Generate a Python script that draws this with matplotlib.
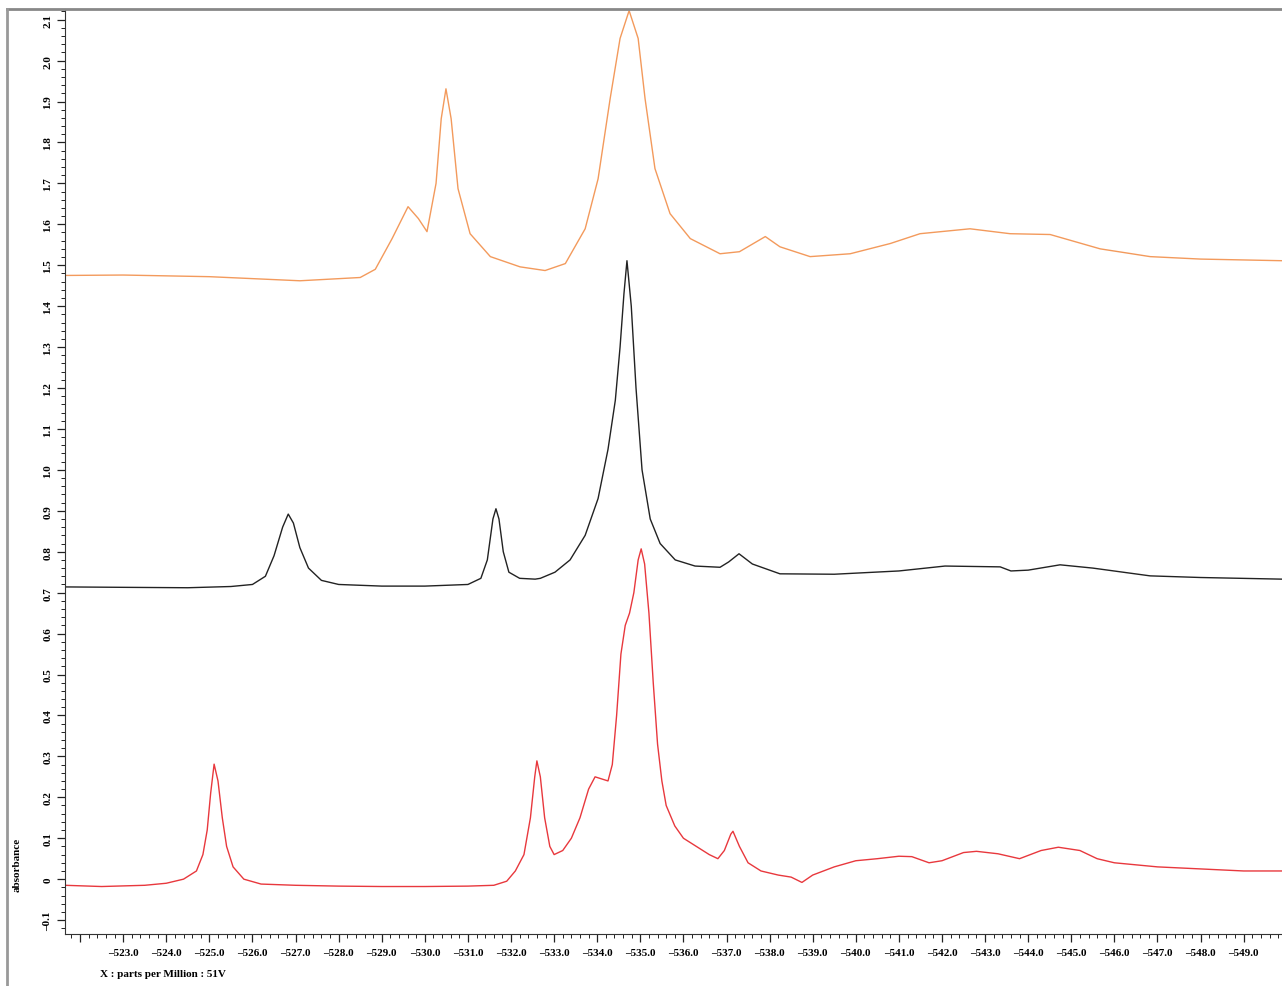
import numpy as np
import matplotlib
matplotlib.use('Agg')
import matplotlib.pyplot as plt
from matplotlib.ticker import MultipleLocator, FuncFormatter
from matplotlib.lines import Line2D

# values (ppm, absorbance)
red_ppm = [-521.65, -522.5, -523.5, -524.0, -524.4, -524.7, -524.85, -524.95, -525.03, -525.11,
           -525.2, -525.3, -525.4, -525.55, -525.8, -526.2, -527.0, -528.0, -529.0, -530.0,
           -531.0, -531.6, -531.9, -532.1, -532.3, -532.45, -532.55, -532.6, -532.68, -532.78,
           -532.9, -533.0, -533.2, -533.4, -533.6, -533.8, -533.95, -534.1, -534.25, -534.35,
           -534.45, -534.55, -534.65, -534.75, -534.85, -534.95, -535.02, -535.1, -535.2, -535.3,
           -535.4, -535.5, -535.6, -535.8, -536.0, -536.3, -536.6, -536.8, -536.95, -537.1,
           -537.15, -537.3, -537.5, -537.8, -538.2, -538.5, -538.75, -539.0, -539.5, -540.0,
           -540.5, -541.0, -541.3, -541.7, -542.0, -542.5, -542.8, -543.3, -543.8, -544.3,
           -544.7, -545.2, -545.6, -546.0, -547.0, -548.0, -549.0, -549.89]
red_val = [-0.015, -0.018, -0.015, -0.01, 0.0, 0.02, 0.06, 0.12, 0.21, 0.281,
           0.24, 0.15, 0.08, 0.03, 0.0, -0.012, -0.015, -0.017, -0.018, -0.018,
           -0.017, -0.015, -0.005, 0.02, 0.06, 0.15, 0.25, 0.289, 0.25, 0.15,
           0.08, 0.06, 0.07, 0.1, 0.15, 0.22, 0.25, 0.245, 0.24, 0.28,
           0.4, 0.55, 0.62, 0.65, 0.7, 0.78, 0.807, 0.77, 0.65, 0.48,
           0.33, 0.24, 0.18, 0.13, 0.1, 0.08, 0.06, 0.05, 0.07, 0.11,
           0.117, 0.08, 0.04, 0.02, 0.01, 0.005, -0.008, 0.01, 0.03, 0.045,
           0.05, 0.056, 0.055, 0.04, 0.045, 0.065, 0.068, 0.062, 0.05, 0.07,
           0.078, 0.07, 0.05, 0.04, 0.03, 0.025, 0.02, 0.02]

black_ppm = [-521.65, -523.0, -524.5, -525.5, -526.0, -526.3, -526.5, -526.7, -526.83, -526.95,
             -527.1, -527.3, -527.6, -528.0, -529.0, -530.0, -531.0, -531.3, -531.45, -531.58,
             -531.65, -531.72, -531.82, -531.95, -532.2, -532.56, -532.68, -533.02, -533.37, -533.72,
             -534.02, -534.25, -534.42, -534.53, -534.62, -534.69, -534.79, -534.9, -535.04, -535.23,
             -535.46, -535.81, -536.27, -536.85, -537.05, -537.29, -537.6, -538.24, -539.5, -541.0,
             -542.07, -543.35, -543.6, -544.0, -544.74, -545.5, -546.83, -548.0, -549.89]
black_val = [0.714, 0.713, 0.712, 0.715, 0.72, 0.74, 0.79, 0.86, 0.892, 0.87,
             0.81, 0.76, 0.73, 0.72, 0.716, 0.716, 0.72, 0.735, 0.78, 0.88,
             0.905, 0.88, 0.8, 0.75, 0.735, 0.733, 0.735, 0.75, 0.78, 0.84,
             0.93, 1.05, 1.17, 1.3, 1.43, 1.511, 1.4, 1.2, 1.0, 0.88,
             0.82, 0.78, 0.765, 0.762, 0.775, 0.795, 0.77, 0.746, 0.745, 0.753,
             0.765, 0.763, 0.753, 0.755, 0.768, 0.76, 0.741, 0.737, 0.733]

orange_ppm = [-521.65, -523.0, -525.0, -527.1, -528.5, -528.85, -529.24, -529.61, -529.85, -530.05,
              -530.26, -530.38, -530.49, -530.61, -530.77, -531.05, -531.52, -532.21, -532.79, -533.26,
              -533.72, -534.02, -534.3, -534.53, -534.74, -534.95, -535.11, -535.34, -535.69, -536.16,
              -536.85, -537.3, -537.9, -538.24, -538.94, -539.87, -540.8, -541.49, -542.65, -543.58,
              -544.51, -545.67, -546.83, -548.0, -549.89]
orange_val = [1.475, 1.476, 1.472, 1.462, 1.47, 1.49, 1.565, 1.643, 1.614, 1.582,
              1.70, 1.858, 1.931, 1.858, 1.687, 1.577, 1.521, 1.496, 1.487, 1.504,
              1.589, 1.711, 1.907, 2.054, 2.122, 2.054, 1.907, 1.736, 1.626, 1.565,
              1.528, 1.533, 1.57, 1.545, 1.521, 1.528, 1.553, 1.577, 1.589, 1.577,
              1.575, 1.540, 1.521, 1.515, 1.511]

plt.rcParams['font.family'] = ['Liberation Serif', 'DejaVu Serif']
plt.rcParams['font.weight'] = 'bold'

fig = plt.figure(figsize=(12.82, 9.87), dpi=100)
ax = fig.add_axes([65 / 1282, 1 - 935 / 987, 1 - 65 / 1282, (935 - 10) / 987])

ax.plot(red_ppm, red_val, color='#e8383d', lw=1.0)
ax.plot(black_ppm, black_val, color='#222222', lw=1.0)
ax.plot(orange_ppm, orange_val, color='#f39a5c', lw=1.0)

ax.set_xlim(-521.65, -549.89)
ax.set_ylim(-0.134, 2.126)

ax.xaxis.set_major_locator(MultipleLocator(1.0))
ax.xaxis.set_minor_locator(MultipleLocator(0.2))
ax.yaxis.set_major_locator(MultipleLocator(0.1))
ax.yaxis.set_minor_locator(MultipleLocator(0.02))

def xfmt(v, pos):
    if v > -522.5 or v < -549.5:
        return ''
    return ('%.1f' % v).replace('-', '\u2013')

def yfmt(v, pos):
    if abs(v) < 1e-9:
        return '0'
    return ('%.1f' % v).replace('-', '\u2013')

ax.xaxis.set_major_formatter(FuncFormatter(xfmt))
ax.yaxis.set_major_formatter(FuncFormatter(yfmt))

ax.tick_params(axis='both', which='major', direction='out', length=6, width=0.9,
               labelsize=8, color='#222222')
ax.tick_params(axis='both', which='minor', direction='out', length=3, width=0.7, color='#222222')
ax.tick_params(axis='x', pad=4)
ax.tick_params(axis='y', pad=3)
for lab in ax.get_yticklabels():
    lab.set_rotation(90)
    lab.set_va('center')

ax.spines['right'].set_visible(False)
ax.spines['top'].set_visible(False)
ax.spines['left'].set_color('#333333')
ax.spines['bottom'].set_color('#333333')

# outer gray frame
fig.add_artist(Line2D([7 / 1282, 1.0], [1 - 10 / 987, 1 - 10 / 987], color='#888888', lw=2.0,
                      transform=fig.transFigure))
fig.add_artist(Line2D([7 / 1282, 7 / 1282], [0.0, 1 - 10 / 987], color='#999999', lw=2.0,
                      transform=fig.transFigure))

fig.text(17 / 1282, 1 - 865 / 987, 'absorbance', rotation=90, ha='center', va='center',
         fontsize=8, fontweight='bold')
fig.text(100 / 1282, 1 - 975 / 987, 'X : parts per Million : 51V', ha='left', va='center',
         fontsize=8, fontweight='bold')

fig.savefig('out.png', dpi=100)
